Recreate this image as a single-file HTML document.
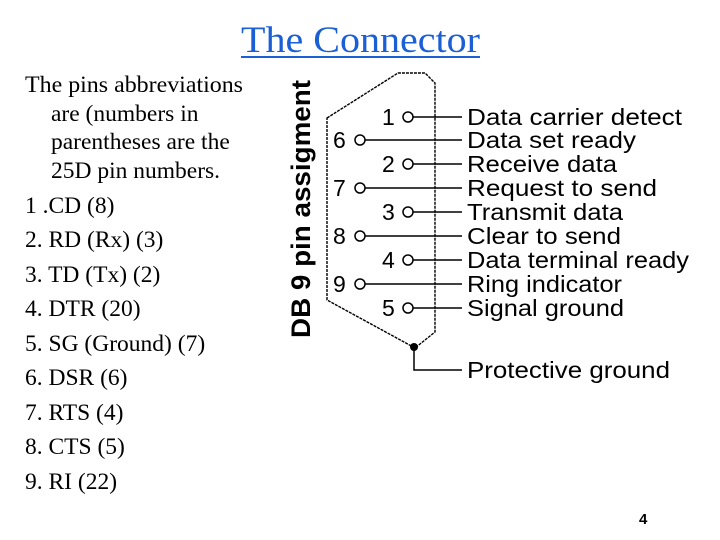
<!DOCTYPE html>
<html><head><meta charset="utf-8"><style>
html,body{margin:0;padding:0;background:#fff;width:720px;height:540px;overflow:hidden}
</style></head><body>
<svg width="720" height="540" xmlns="http://www.w3.org/2000/svg">
<text x="241" y="52" font-family="Liberation Serif, serif" font-size="37" fill="#1a5fd6" textLength="239" lengthAdjust="spacingAndGlyphs">The Connector</text>
<rect x="241" y="56" width="239" height="2" fill="#1a5fd6"/>
<g font-family="Liberation Serif, serif" font-size="23.5" fill="#000">
<text x="25" y="92" textLength="218" lengthAdjust="spacingAndGlyphs">The pins abbreviations</text>
<text x="51" y="121">are (numbers in</text>
<text x="51" y="149">parentheses are the</text>
<text x="51" y="178">25D pin numbers.</text>
<text x="25" y="213">1 .CD (8)</text>
<text x="25" y="247">2. RD (Rx) (3)</text>
<text x="25" y="282">3. TD (Tx) (2)</text>
<text x="25" y="316">4. DTR (20)</text>
<text x="25" y="351">5. SG (Ground) (7)</text>
<text x="25" y="385">6. DSR (6)</text>
<text x="25" y="420">7. RTS (4)</text>
<text x="25" y="454">8. CTS (5)</text>
<text x="25" y="489">9. RI (22)</text>
</g>
<text x="639" y="524" font-family="Liberation Sans, sans-serif" font-size="15" font-weight="bold">4</text>
<text transform="translate(310,338) rotate(-90)" font-family="Liberation Sans, sans-serif" font-size="27" font-weight="bold" textLength="258" lengthAdjust="spacingAndGlyphs">DB 9 pin assigment</text>
<polygon points="327,118 398,73 425,73 435,83 435,332 415,348 327,300" fill="none" stroke="#000" stroke-width="1.4" stroke-dasharray="3,1"/>
<g stroke="#000" stroke-width="1.5" fill="#fff">
<line x1="413" y1="117" x2="462" y2="117"/><circle cx="408" cy="117" r="5"/>
<line x1="365" y1="140" x2="462" y2="140"/><circle cx="360" cy="140" r="5"/>
<line x1="413" y1="164" x2="462" y2="164"/><circle cx="408" cy="164" r="5"/>
<line x1="365" y1="188" x2="462" y2="188"/><circle cx="360" cy="188" r="5"/>
<line x1="413" y1="212" x2="462" y2="212"/><circle cx="408" cy="212" r="5"/>
<line x1="365" y1="236" x2="462" y2="236"/><circle cx="360" cy="236" r="5"/>
<line x1="413" y1="260" x2="462" y2="260"/><circle cx="408" cy="260" r="5"/>
<line x1="365" y1="284" x2="462" y2="284"/><circle cx="360" cy="284" r="5"/>
<line x1="413" y1="308" x2="462" y2="308"/><circle cx="408" cy="308" r="5"/>
<polyline points="414,348 414,370 462,370" fill="none"/>
</g>
<circle cx="414" cy="347" r="4" fill="#000"/>
<g font-family="Liberation Sans, sans-serif" font-size="23" fill="#000">
<text x="382" y="125">1</text><text x="333" y="148">6</text>
<text x="382" y="172">2</text><text x="333" y="196">7</text>
<text x="382" y="220">3</text><text x="333" y="244">8</text>
<text x="382" y="268">4</text><text x="333" y="292">9</text>
<text x="382" y="316">5</text>
<text x="467" y="125" textLength="215" lengthAdjust="spacingAndGlyphs">Data carrier detect</text>
<text x="467" y="148" textLength="169" lengthAdjust="spacingAndGlyphs">Data set ready</text>
<text x="467" y="172" textLength="150" lengthAdjust="spacingAndGlyphs">Receive data</text>
<text x="467" y="196" textLength="190" lengthAdjust="spacingAndGlyphs">Request to send</text>
<text x="467" y="220" textLength="156" lengthAdjust="spacingAndGlyphs">Transmit data</text>
<text x="467" y="244" textLength="154" lengthAdjust="spacingAndGlyphs">Clear to send</text>
<text x="467" y="268" textLength="222" lengthAdjust="spacingAndGlyphs">Data terminal ready</text>
<text x="467" y="292" textLength="155" lengthAdjust="spacingAndGlyphs">Ring indicator</text>
<text x="467" y="316" textLength="157" lengthAdjust="spacingAndGlyphs">Signal ground</text>
<text x="467" y="378" textLength="203" lengthAdjust="spacingAndGlyphs">Protective ground</text>
</g>
</svg>
</body></html>
